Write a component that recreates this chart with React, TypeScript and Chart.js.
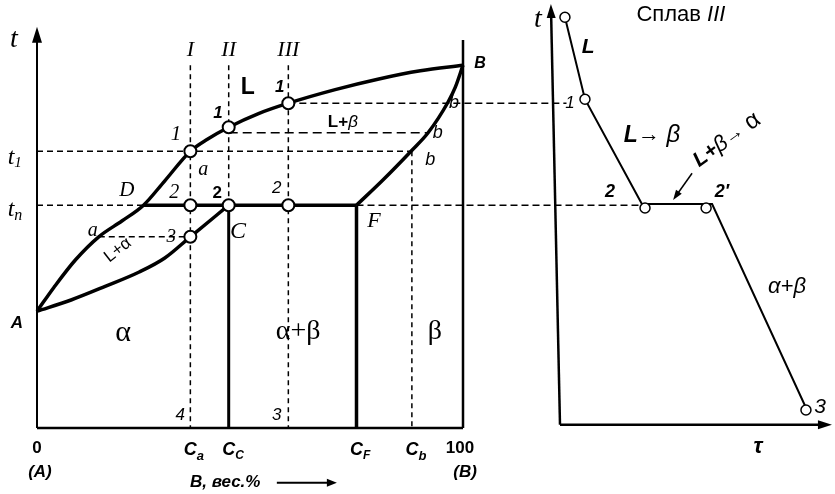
import { useEffect, useRef } from "react";
import { Chart, registerables } from "chart.js";
Chart.register(...registerables);

const W = 835;
const H = 494;

// ---------- Phase diagram (composition, wt.% B  vs  temperature) ----------
const liquidusC = [0, 4, 9, 14.5, 20, 25, 30, 36, 40, 45, 52, 59, 70, 80, 90, 100];
const liquidusT = [292, 352, 420, 478, 518, 557, 618, 692, 722, 752, 786, 812, 846, 872, 893, 907];

const solidusC = [0, 8, 16, 24, 30, 36, 45];
const solidusT = [292, 320, 354, 390, 425, 478, 557];

const solvusC = [75, 81.2, 87.8, 91.8, 96.5, 98.2, 100];
const solvusT = [557, 620, 692, 738, 815, 852, 907];

const alloyC = [36, 45, 59]; // I, II, III  (C_a, C_C, alloy III)
const C_D = 25;
const C_F = 75;
const C_b = 88;
const C_a_pt = 14.5;
const T_TOP = 907;
const T_EUT = 557;
const T_1 = 692;
const T_II_b = 738;
const T_III = 812;
const T_3 = 478;
const T_EDGE = 970;

const circleC = [36, 45, 59, 36, 45, 59, 36];
const circleT = [692, 752, 812, 557, 557, 557, 478];

// ---------- Cooling curve of alloy III (time vs temperature) ----------
const coolTau = [1.9, 9.6, 31.5, 58.5, 95];
const coolT = [1027, 822, 560, 560, 45];
const coolCircTau = [1.9, 9.6, 32.7, 56.2, 94.6];
const coolCircT = [1027, 822, 550, 550, 45];

// ---------- layout (pixel anchors of the two panels) ----------
const LEFT0_PX = 37;
const PX_PER_C = 4.26;
const RIGHT0_PX = 560;
const PX_PER_TAU = 2.6;
const BASE_PX = 428;
const T_PER_PX = 2.5;

const pts = (xs: number[], ys: number[]) => xs.map((x, i) => ({ x, y: ys[i] }));

const SER_I = (s: number) => `italic ${s}px "Liberation Serif"`;
const SER = (s: number) => `${s}px "Liberation Serif"`;
const SANS = (s: number) => `${s}px "Liberation Sans"`;
const SANS_I = (s: number) => `italic ${s}px "Liberation Sans"`;
const SANS_B = (s: number) => `bold ${s}px "Liberation Sans"`;
const SANS_BI = (s: number) => `italic bold ${s}px "Liberation Sans"`;

type Part = [string, string, number?];
type Label = { a: "x" | "x2"; x: number; y: number; p: Part[]; al?: "center" | "main" | "left"; r?: number };

const labels: Label[] = [
  { a: "x", x: -5.4, y: 970, p: [["t", SER_I(28)]] },
  { a: "x", x: alloyC[0], y: 945, p: [["I", SER_I(22)]] },
  { a: "x", x: alloyC[1], y: 945, p: [["II", SER_I(22)]] },
  { a: "x", x: alloyC[2], y: 945, p: [["III", SER_I(22)]] },
  { a: "x", x: -6.1, y: 677, p: [["t", SER_I(24)], ["1", SER_I(15), 6]], al: "main" },
  { a: "x", x: -6.1, y: 545, p: [["t", SER_I(24)], ["п", SER_I(16), 6]], al: "main" },
  { a: "x", x: 21.1, y: 595, p: [["D", SER_I(21)]] },
  { a: "x", x: 32.6, y: 735, p: [["1", SER_I(21)]] },
  { a: "x", x: 39, y: 645, p: [["a", SER_I(20)]] },
  { a: "x", x: 32.2, y: 587, p: [["2", SER_I(20)]] },
  { a: "x", x: 42.3, y: 587, p: [["2", SANS_B(17)]] },
  { a: "x", x: 56.3, y: 600, p: [["2", SANS_I(17)]] },
  { a: "x", x: 42.5, y: 787, p: [["1", SANS_BI(17)]] },
  { a: "x", x: 49.5, y: 850, p: [["L", SANS_B(23)]] },
  { a: "x", x: 57, y: 852, p: [["1", SANS_BI(17)]] },
  { a: "x", x: 71.8, y: 765, p: [["L+", SANS_B(17)], ["β", SANS_I(17)]] },
  { a: "x", x: 97.9, y: 812, p: [["b", SANS_I(18)]] },
  { a: "x", x: 94.1, y: 737, p: [["b", SANS_I(18)]] },
  { a: "x", x: 92.3, y: 670, p: [["b", SANS_I(18)]] },
  { a: "x", x: 104, y: 912, p: [["B", SANS_BI(16)]] },
  { a: "x", x: 47.2, y: 490, p: [["C", SER_I(24)]] },
  { a: "x", x: 79.1, y: 517, p: [["F", SER_I(22)]] },
  { a: "x", x: 13.1, y: 492, p: [["a", SER_I(20)]] },
  { a: "x", x: 31.5, y: 477, p: [["3", SER_I(19)]] },
  { a: "x", x: 19, y: 445, p: [["L+α", SANS(17)]], r: -38 },
  { a: "x", x: -4.7, y: 262, p: [["A", SANS_BI(17)]] },
  { a: "x", x: 20.2, y: 237, p: [["α", SER(30)]] },
  { a: "x", x: 61.3, y: 240, p: [["α+β", SER(28)]] },
  { a: "x", x: 93.4, y: 240, p: [["β", SER(28)]] },
  { a: "x", x: 33.6, y: 32, p: [["4", SANS_I(17)]] },
  { a: "x", x: 56.3, y: 32, p: [["3", SANS_I(17)]] },
  { a: "x", x: 0, y: -50, p: [["0", SANS_B(17)]] },
  { a: "x", x: 0.7, y: -110, p: [["(A)", SANS_BI(17)]] },
  { a: "x", x: alloyC[0], y: -55, p: [["C", SANS_BI(18)], ["a", SANS_BI(13), 6]], al: "main" },
  { a: "x", x: alloyC[1], y: -55, p: [["C", SANS_BI(18)], ["C", SANS_BI(12), 6]], al: "main" },
  { a: "x", x: C_F, y: -55, p: [["C", SANS_BI(18)], ["F", SANS_BI(12), 6]], al: "main" },
  { a: "x", x: C_b, y: -55, p: [["C", SANS_BI(18)], ["b", SANS_BI(13), 6]], al: "main" },
  { a: "x", x: 99.3, y: -50, p: [["100", SANS_B(17)]] },
  { a: "x", x: 100.5, y: -110, p: [["(B)", SANS_BI(17)]] },
  { a: "x", x: 35.9, y: -137, p: [["B, вес.%", SANS_BI(17)]], al: "left" },
  // cooling curve panel
  { a: "x2", x: -8.5, y: 1020, p: [["t", SER_I(28)]] },
  { a: "x2", x: 46.5, y: 1032, p: [["Сплав ", SANS(22)], ["III", SANS_I(22)]] },
  { a: "x2", x: 10.8, y: 952, p: [["L", SANS_BI(21)]] },
  { a: "x2", x: 3.8, y: 812, p: [["1", SANS_I(17)]] },
  { a: "x2", x: 35.4, y: 732, p: [["L", SANS_BI(23)], ["→", SANS(22)], [" β", SANS_I(24)]] },
  { a: "x2", x: 64.2, y: 720, p: [["L+", SANS_BI(21)], ["β", SANS_I(22)], ["→", SANS(19)], [" α", SANS(24)]], r: -36 },
  { a: "x2", x: 19.2, y: 590, p: [["2", SANS_BI(18)]] },
  { a: "x2", x: 62.3, y: 590, p: [["2′", SANS_BI(18)]] },
  { a: "x2", x: 87.3, y: 352, p: [["α+β", SANS_I(22)]] },
  { a: "x2", x: 100, y: 52, p: [["3", SANS_I(21)]] },
  { a: "x2", x: 76.2, y: -47, p: [["τ", SANS_BI(22)]] },
];

// dashed lines that cross from the diagram to the cooling curve
const connectors = [
  { c: alloyC[2], tau: 2.5, t: T_III },
  { c: C_F, tau: 31.5, t: T_EUT },
];

type Arrow = { a: "x" | "x2"; from: [number, number]; to: [number, number]; lw: number; len: number; w: number };
const arrows: Arrow[] = [
  { a: "x", from: [0, 0], to: [0, 1003], lw: 2, len: 16, w: 10 },
  { a: "x2", from: [0, 8], to: [-3.5, 1060], lw: 2.5, len: 14, w: 9 },
  { a: "x2", from: [0, 8], to: [104.6, 8], lw: 2.5, len: 14, w: 9 },
  { a: "x", from: [56.3, -137], to: [70.4, -137], lw: 2, len: 10, w: 8 },
  { a: "x2", from: [50.8, 637], to: [43.5, 570], lw: 1.5, len: 10, w: 7 },
];

function drawParts(ctx: CanvasRenderingContext2D, parts: Part[], px: number, py: number, al: string, rot: number) {
  ctx.save();
  ctx.translate(px, py);
  if (rot) ctx.rotate((rot * Math.PI) / 180);
  ctx.textBaseline = "middle";
  ctx.textAlign = "left";
  ctx.fillStyle = "#000";
  const widths = parts.map((p) => {
    ctx.font = p[1];
    return ctx.measureText(p[0]).width;
  });
  const total = widths.reduce((s, v) => s + v, 0);
  let xx = al === "left" ? 0 : al === "main" ? -widths[0] / 2 : -total / 2;
  parts.forEach((p, i) => {
    ctx.font = p[1];
    ctx.fillText(p[0], xx, p[2] || 0);
    xx += widths[i];
  });
  ctx.restore();
}

const decor = {
  id: "decor",
  beforeDatasetsDraw(chart: any) {
    const ctx = chart.ctx as CanvasRenderingContext2D;
    const { x, x2, y } = chart.scales;
    ctx.save();
    ctx.strokeStyle = "#000";
    ctx.lineWidth = 1.5;
    ctx.setLineDash([7, 4]);
    for (const c of connectors) {
      ctx.beginPath();
      ctx.moveTo(x.getPixelForValue(c.c), y.getPixelForValue(c.t));
      ctx.lineTo(x2.getPixelForValue(c.tau), y.getPixelForValue(c.t));
      ctx.stroke();
    }
    ctx.restore();
  },
  afterDatasetsDraw(chart: any) {
    const ctx = chart.ctx as CanvasRenderingContext2D;
    const { y } = chart.scales;
    ctx.save();
    for (const ar of arrows) {
      const sx = chart.scales[ar.a];
      const x1 = sx.getPixelForValue(ar.from[0]);
      const y1 = y.getPixelForValue(ar.from[1]);
      const x2 = sx.getPixelForValue(ar.to[0]);
      const y2 = y.getPixelForValue(ar.to[1]);
      const ang = Math.atan2(y2 - y1, x2 - x1);
      const bx = x2 - Math.cos(ang) * ar.len;
      const by = y2 - Math.sin(ang) * ar.len;
      ctx.strokeStyle = "#000";
      ctx.lineWidth = ar.lw;
      ctx.setLineDash([]);
      ctx.beginPath();
      ctx.moveTo(x1, y1);
      ctx.lineTo(bx + Math.cos(ang) * 2, by + Math.sin(ang) * 2);
      ctx.stroke();
      ctx.fillStyle = "#000";
      ctx.beginPath();
      ctx.moveTo(x2, y2);
      ctx.lineTo(bx + (Math.sin(ang) * ar.w) / 2, by - (Math.cos(ang) * ar.w) / 2);
      ctx.lineTo(bx - (Math.sin(ang) * ar.w) / 2, by + (Math.cos(ang) * ar.w) / 2);
      ctx.closePath();
      ctx.fill();
    }
    for (const l of labels) {
      const sx = chart.scales[l.a];
      drawParts(ctx, l.p, sx.getPixelForValue(l.x), y.getPixelForValue(l.y), l.al || "center", l.r || 0);
    }
    ctx.restore();
  },
};

function line(data: { x: number; y: number }[], w: number, axis = "x", extra: any = {}) {
  return {
    type: "line",
    data,
    xAxisID: axis,
    yAxisID: "y",
    borderColor: "#000",
    borderWidth: w,
    pointRadius: 0,
    fill: false,
    tension: 0,
    borderCapStyle: "butt",
    ...extra,
  };
}

const DASH = { borderDash: [6, 4] };
const SMOOTH = { cubicInterpolationMode: "monotone" };

export default function App() {
  const ref = useRef<HTMLCanvasElement>(null);
  useEffect(() => {
    const datasets: any[] = [
      {
        type: "line",
        data: pts(circleC, circleT),
        xAxisID: "x",
        yAxisID: "y",
        showLine: false,
        pointRadius: 6,
        pointBorderWidth: 2,
        pointBackgroundColor: "#fff",
        pointBorderColor: "#000",
        order: -2,
      },
      {
        type: "line",
        data: pts(coolCircTau, coolCircT),
        xAxisID: "x2",
        yAxisID: "y",
        showLine: false,
        pointRadius: 5,
        pointBorderWidth: 1.5,
        pointBackgroundColor: "#fff",
        pointBorderColor: "#000",
        order: -2,
      },
      line(pts(liquidusC, liquidusT), 3.5, "x", SMOOTH),
      line(pts(solidusC, solidusT), 3.5, "x", SMOOTH),
      line(pts(solvusC, solvusT), 3.5, "x", SMOOTH),
      line(pts([C_D, C_F], [T_EUT, T_EUT]), 3.5),
      line(pts([alloyC[1], alloyC[1]], [0, T_EUT]), 3),
      line(pts([C_F, C_F], [0, T_EUT]), 3.5),
      line(pts([0, 100], [0, 0]), 2.5),
      line(pts([100, 100], [0, T_EDGE]), 2.5),
      // dashed construction lines
      line(pts([0, C_b], [T_1, T_1]), 1.5, "x", DASH),
      line(pts([0, C_D], [T_EUT, T_EUT]), 1.5, "x", DASH),
      line(pts([alloyC[1], solvusC[3]], [T_II_b, T_II_b]), 1.5, "x", { borderDash: [9, 5] }),
      line(pts([C_a_pt, alloyC[0]], [T_3, T_3]), 1.5, "x", DASH),
      line(pts([alloyC[0], alloyC[0]], [T_TOP, 0]), 1.5, "x", { borderDash: [5, 4] }),
      line(pts([alloyC[1], alloyC[1]], [T_TOP, T_EUT]), 1.5, "x", { borderDash: [5, 4] }),
      line(pts([alloyC[2], alloyC[2]], [T_TOP, 0]), 1.5, "x", { borderDash: [5, 4] }),
      line(pts([C_b, C_b], [T_1, 0]), 1.5, "x", { borderDash: [5, 4] }),
      // cooling curve
      line(pts(coolTau, coolT), 2, "x2"),
    ];

    const chart = new Chart(ref.current as HTMLCanvasElement, {
      type: "line",
      data: { datasets },
      options: {
        responsive: false,
        maintainAspectRatio: false,
        animation: false,
        devicePixelRatio: 1,
        events: [],
        layout: { padding: 0, autoPadding: false },
        plugins: { legend: { display: false }, tooltip: { enabled: false } },
        scales: {
          x: {
            type: "linear",
            display: false,
            min: -LEFT0_PX / PX_PER_C,
            max: (W - LEFT0_PX) / PX_PER_C,
          },
          x2: {
            type: "linear",
            display: false,
            min: -RIGHT0_PX / PX_PER_TAU,
            max: (W - RIGHT0_PX) / PX_PER_TAU,
          },
          y: {
            type: "linear",
            display: false,
            min: -(H - BASE_PX) * T_PER_PX,
            max: BASE_PX * T_PER_PX,
          },
        },
      } as any,
      plugins: [decor],
    });
    return () => chart.destroy();
  }, []);

  return (
    <div style={{ position: "fixed", left: 0, top: 0, width: W, height: H, background: "#fff" }}>
      <canvas ref={ref} width={W} height={H} style={{ display: "block", width: W, height: H }} />
    </div>
  );
}
